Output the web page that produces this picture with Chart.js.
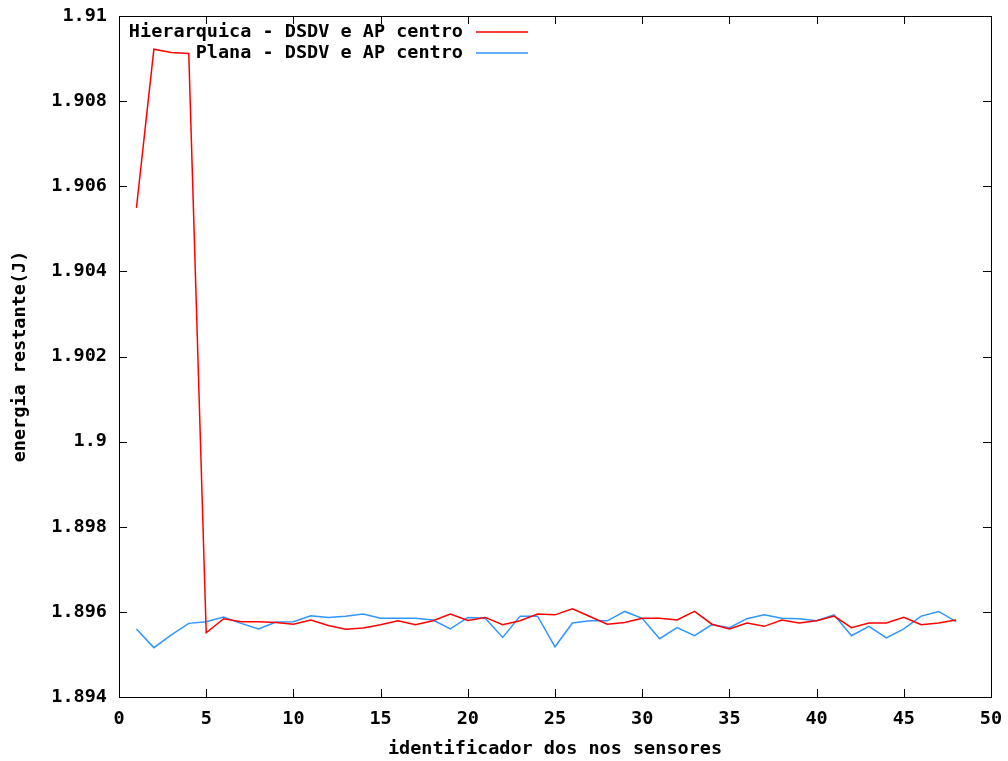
<!DOCTYPE html>
<html>
<head>
<meta charset="utf-8">
<script src="https://cdn.jsdelivr.net/npm/chart.js@4/dist/chart.umd.min.js"></script>
<style>
  html, body { margin: 0; padding: 0; background: #fff; }
  #wrap { width: 1008px; height: 761px; }
</style>
</head>
<body>
<div id="wrap"><canvas id="myChart"></canvas></div>
<script>
// node ids along x
const nodeIds = [1, 2, 3, 4, 5, 6, 7, 8, 9, 10, 11, 12, 13, 14, 15, 16, 17, 18, 19, 20, 21, 22, 23, 24,
                 25, 26, 27, 28, 29, 30, 31, 32, 33, 34, 35, 36, 37, 38, 39, 40, 41, 42, 43, 44, 45, 46, 47, 48];

// Hierarquica - DSDV e AP centro
const hierarquica = [1.90549, 1.90922, 1.90914, 1.90912, 1.89551, 1.89584, 1.89577, 1.89577, 1.89575, 1.89571,
                     1.89581, 1.89568, 1.89559, 1.89562, 1.89570, 1.89579, 1.89570, 1.89579, 1.89595, 1.89580,
                     1.89587, 1.89570, 1.89579, 1.89595, 1.89593, 1.89607, 1.89589, 1.89571, 1.89575, 1.89585,
                     1.89585, 1.89581, 1.89601, 1.89571, 1.89560, 1.89574, 1.89566, 1.89581, 1.89574, 1.89579,
                     1.89590, 1.89563, 1.89574, 1.89574, 1.89587, 1.89570, 1.89574, 1.89581];

// Plana - DSDV e AP centro
const plana = [1.89560, 1.89516, 1.89546, 1.89573, 1.89577, 1.89588, 1.89573, 1.89560, 1.89576, 1.89577,
               1.89591, 1.89587, 1.89590, 1.89595, 1.89585, 1.89585, 1.89585, 1.89581, 1.89560, 1.89587,
               1.89585, 1.89540, 1.89590, 1.89590, 1.89518, 1.89574, 1.89579, 1.89579, 1.89601, 1.89585,
               1.89537, 1.89563, 1.89544, 1.89570, 1.89563, 1.89584, 1.89593, 1.89585, 1.89584, 1.89579,
               1.89593, 1.89544, 1.89566, 1.89539, 1.89560, 1.89590, 1.89601, 1.89577];

const seriesLabels = ['Hierarquica - DSDV e AP centro', 'Plana - DSDV e AP centro'];
const xTitle = 'identificador dos nos sensores';
const yTitle = 'energia restante(J)';

const FONT = "'DejaVu Sans Mono', monospace";
const FSIZE = 18.5;

// gnuplot-style frame, inward ticks and key
const framePlugin = {
    id: 'frame',
    afterDatasetsDraw(chart) {
        const c = chart.ctx, a = chart.chartArea;
        const xs = chart.scales.x, ys = chart.scales.y;
        c.save();
        c.strokeStyle = '#000';
        c.lineWidth = 1;
        c.strokeRect(a.left + 0.5, a.top + 0.5, a.right - a.left, a.bottom - a.top);
        c.beginPath();
        xs.ticks.forEach(t => {
            const px = Math.round(xs.getPixelForValue(t.value)) + 0.5;
            c.moveTo(px, a.bottom); c.lineTo(px, a.bottom - 8);
            c.moveTo(px, a.top); c.lineTo(px, a.top + 8);
        });
        ys.ticks.forEach(t => {
            const py = Math.round(ys.getPixelForValue(t.value)) + 0.5;
            c.moveTo(a.left, py); c.lineTo(a.left + 8, py);
            c.moveTo(a.right, py); c.lineTo(a.right - 8, py);
        });
        c.stroke();

        // key
        c.font = 'bold ' + FSIZE + 'px ' + FONT;
        c.textAlign = 'right';
        c.textBaseline = 'middle';
        chart.data.datasets.forEach((ds, i) => {
            const y = 32 + i * 21;
            c.fillStyle = '#000';
            c.fillText(ds.label, 463, y);
            c.strokeStyle = ds.borderColor;
            c.lineWidth = 1.5;
            c.beginPath();
            c.moveTo(476, y); c.lineTo(528, y);
            c.stroke();
        });
        c.restore();
    }
};

new Chart(document.getElementById('myChart').getContext('2d'), {
    type: 'line',
    data: {
        datasets: [
            {
                label: seriesLabels[0],
                data: nodeIds.map((id, i) => ({ x: id, y: hierarquica[i] })),
                borderColor: '#ff0000',
                borderWidth: 1.5,
                pointRadius: 0,
                tension: 0
            },
            {
                label: seriesLabels[1],
                data: nodeIds.map((id, i) => ({ x: id, y: plana[i] })),
                borderColor: '#2f96ff',
                borderWidth: 1.5,
                pointRadius: 0,
                tension: 0
            }
        ]
    },
    options: {
        responsive: true,
        maintainAspectRatio: false,
        animation: false,
        layout: { padding: { left: 0, top: 16, right: 17, bottom: 0 } },
        plugins: {
            legend: { display: false },
            tooltip: { enabled: false }
        },
        scales: {
            x: {
                type: 'linear',
                min: 0,
                max: 50,
                grid: { display: false, drawTicks: false },
                border: { display: false },
                ticks: {
                    stepSize: 5,
                    padding: 11,
                    maxRotation: 0,
                    color: '#000',
                    font: { family: FONT, size: FSIZE, weight: 'bold' }
                },
                title: {
                    display: true,
                    text: xTitle,
                    color: '#000',
                    padding: { top: 0, bottom: 1 },
                    font: { family: FONT, size: FSIZE, weight: 'bold' }
                },
                afterFit(scale) {
                    scale.height = 64;
                    scale.paddingLeft = 0;
                    scale.paddingRight = 0;
                }
            },
            y: {
                min: 1.894,
                max: 1.91,
                grid: { display: false, drawTicks: false },
                border: { display: false },
                ticks: {
                    stepSize: 0.002,
                    padding: 12,
                    color: '#000',
                    font: { family: FONT, size: FSIZE, weight: 'bold' },
                    callback: v => String(+v.toFixed(3))
                },
                title: {
                    display: true,
                    text: yTitle,
                    color: '#000',
                    padding: { top: 9, bottom: 0 },
                    font: { family: FONT, size: FSIZE, weight: 'bold' }
                },
                afterFit(scale) {
                    scale.width = 119;
                    scale.paddingTop = 0;
                    scale.paddingBottom = 0;
                }
            }
        }
    },
    plugins: [framePlugin]
});
</script>
</body>
</html>
